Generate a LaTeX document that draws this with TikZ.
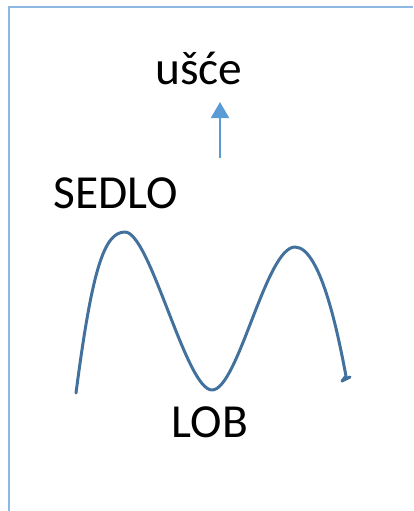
\documentclass[tikz,border=0pt]{standalone}
\usepackage{fontspec}
\setmainfont{Carlito}
\usepackage{tikz}
\usetikzlibrary{arrows.meta}
\definecolor{waveBlue}{RGB}{65,113,156}
\definecolor{arrBlue}{RGB}{91,155,213}
\definecolor{frameBlue}{RGB}{140,185,228}
\tikzset{
  lbl/.style   = {anchor=base, inner sep=0pt, font=\fontsize{27}{32}\selectfont},
  arr/.style   = {-{Triangle[width=0.36cm, length=0.32cm]}, arrBlue, line width=1.2pt},
  wave/.style  = {waveBlue, line width=1.7pt, line cap=round, line join=round},
  frame/.style = {frameBlue, line width=0.9pt}
}

\begin{document}
\begin{tikzpicture}[x=0.02cm, y=-0.02cm]
    \useasboundingbox (0,0) rectangle (413,511);

    % page frame
    \draw[frame] (9,511) -- (9,7) -- (413,7);

    % labels
    \node[lbl] (usce)  at (199,84)  {ušće};
    \node[lbl] (sedlo) at (116,208) {SEDLO};
    \node[lbl] (lob)   at (210,437) {LOB};

    % arrow up to the mouth
    \coordinate (tail) at (220,158);
    \coordinate (tip)  at (220,102);
    \draw[arr] (tail) -- (tip);

    % wave
    \draw[wave] (76,393) .. controls (92,270) and (104,232) .. (125,232)
                         .. controls (150,232) and (186,390) .. (212,390)
                         .. controls (238,390) and (266,247) .. (295,247)
                         .. controls (322,247) and (340,345) .. (346,376)
                         -- (342,381) -- (350,377);
\end{tikzpicture}
\end{document}
